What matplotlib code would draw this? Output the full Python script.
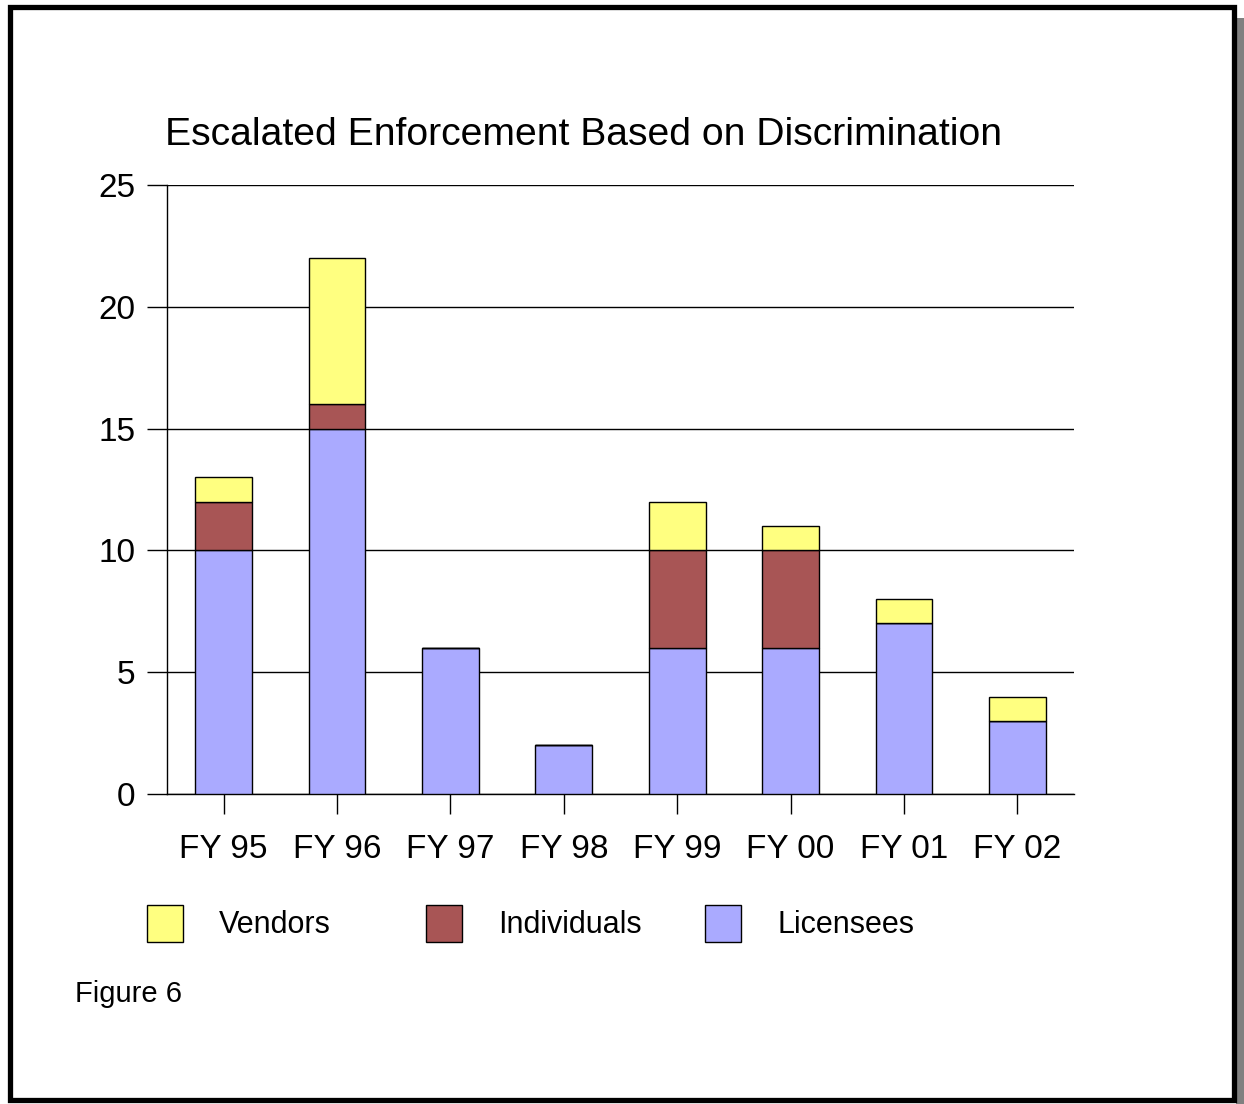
import matplotlib
matplotlib.use("Agg")
import matplotlib.pyplot as plt
from matplotlib.patches import Rectangle
import numpy as np

plt.rcParams["font.family"] = ["Liberation Sans", "DejaVu Sans"]

# --- data -----------------------------------------------------------------
YEARS       = ["FY 95", "FY 96", "FY 97", "FY 98", "FY 99", "FY 00", "FY 01", "FY 02"]
LICENSEES   = [10, 15, 6, 2, 6, 6, 7, 3]
INDIVIDUALS = [2, 1, 0, 0, 4, 4, 0, 0]
VENDORS     = [1, 6, 0, 0, 2, 1, 1, 1]
LEGEND      = ["Vendors", "Individuals", "Licensees"]

C_LIC = "#aaaaff"
C_IND = "#a85555"
C_VEN = "#ffff80"

W, H = 1244, 1104
fig = plt.figure(figsize=(W / 100, H / 100), dpi=100)


def fx(px):
    return px / W


def fy(py):
    return 1 - py / H


# page frame with drop shadow
fig.patches.append(Rectangle((fx(1236), fy(1104)), fx(8), (1104 - 18) / H,
                             transform=fig.transFigure, facecolor="#808080",
                             edgecolor="none", zorder=0))
fig.patches.append(Rectangle((fx(9.5), fy(1100)), fx(1224), (1100 - 7) / H,
                             transform=fig.transFigure, facecolor="white",
                             edgecolor="black", linewidth=3.8, zorder=1))

ax = fig.add_axes([fx(167), fy(794), fx(1074 - 167), (794 - 185) / H])
ax.set_zorder(2)

x = np.arange(len(YEARS))
lic = np.array(LICENSEES)
ind = np.array(INDIVIDUALS)
ven = np.array(VENDORS)
kw = dict(width=0.5, edgecolor="black", linewidth=1.0, zorder=3)
ax.bar(x, lic, color=C_LIC, **kw)
ax.bar(x, ind, bottom=lic, color=C_IND, **kw)
ax.bar(x, ven, bottom=lic + ind, color=C_VEN, **kw)

ax.set_xlim(-0.5, len(YEARS) - 0.5)
ax.set_ylim(0, 25)
ax.set_yticks([0, 5, 10, 15, 20, 25])
ax.set_xticks(x)
ax.set_xticklabels(YEARS)
ax.yaxis.grid(True, color="black", linewidth=1.0, zorder=0)
ax.set_axisbelow(True)
for s in ("top", "right"):
    ax.spines[s].set_visible(False)
ax.spines["left"].set_linewidth(1.0)
ax.spines["bottom"].set_linewidth(1.0)
ax.tick_params(axis="both", direction="out", length=14.5, width=1.0,
               labelsize=24, colors="black")
ax.tick_params(axis="x", pad=14)
ax.tick_params(axis="y", pad=8)

fig.text(fx(165), fy(135), "Escalated Enforcement Based on Discrimination",
         fontsize=28.2, ha="left", va="center")

for px, col, lab in zip([147, 426, 705], [C_VEN, C_IND, C_LIC], LEGEND):
    fig.patches.append(Rectangle((fx(px), fy(942)), fx(36), 37 / H,
                                 transform=fig.transFigure, facecolor=col,
                                 edgecolor="black", linewidth=1.0, zorder=3))
    fig.text(fx(px + 72), fy(925), lab, fontsize=22, ha="left", va="center")

fig.text(fx(75), fy(994), "Figure 6", fontsize=21, ha="left", va="center")

fig.savefig("out.png", dpi=100)
